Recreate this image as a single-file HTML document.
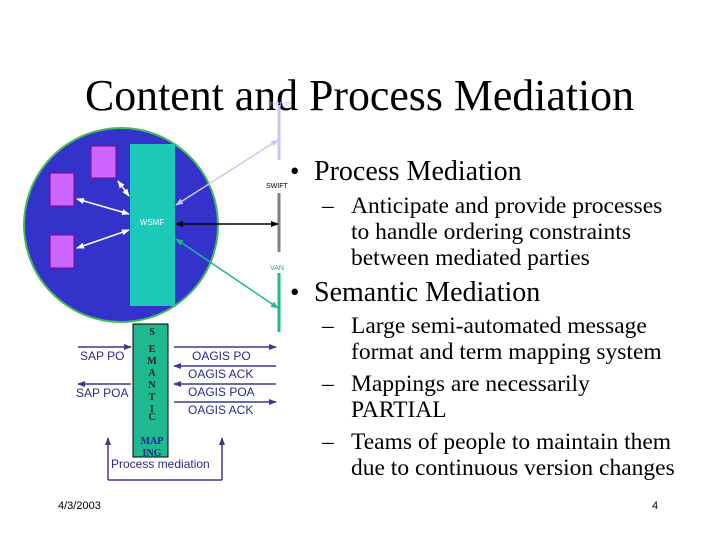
<!DOCTYPE html>
<html><head><meta charset="utf-8"><style>body{margin:0;background:#fff}svg{display:block}</style></head><body>
<svg width="720" height="540" xmlns="http://www.w3.org/2000/svg" font-family="Liberation Sans, sans-serif">
<defs>
<marker id="aw" markerWidth="8" markerHeight="8" refX="7" refY="4" orient="auto-start-reverse" markerUnits="userSpaceOnUse"><path d="M0,1 L8,4 L0,7z" fill="#fff"/></marker>
<marker id="ab" markerWidth="8" markerHeight="8" refX="7" refY="4" orient="auto-start-reverse" markerUnits="userSpaceOnUse"><path d="M0,1 L8,4 L0,7z" fill="#000"/></marker>
<marker id="al" markerWidth="8" markerHeight="8" refX="7" refY="4" orient="auto-start-reverse" markerUnits="userSpaceOnUse"><path d="M0,1 L8,4 L0,7z" fill="#c8c8ee"/></marker>
<marker id="ag" markerWidth="8" markerHeight="8" refX="7" refY="4" orient="auto-start-reverse" markerUnits="userSpaceOnUse"><path d="M0,1 L8,4 L0,7z" fill="#1fb890"/></marker>
<marker id="an" markerWidth="8" markerHeight="8" refX="7" refY="4" orient="auto-start-reverse" markerUnits="userSpaceOnUse"><path d="M0,1 L8,4 L0,7z" fill="#3a3a90"/></marker>
</defs>
<text x="85" y="110" font-family="Liberation Serif, serif" font-size="44" textLength="549" lengthAdjust="spacingAndGlyphs">Content and Process Mediation</text>
<circle cx="121" cy="225" r="97" fill="#3333cc" stroke="#44bb55" stroke-width="2"/>
<rect x="130" y="144" width="45" height="162" fill="#1cc8b8"/>
<text x="152" y="225" font-size="8" fill="#fff" text-anchor="middle">WSMF</text>
<rect x="91" y="146" width="25" height="32" fill="#cc66ff" stroke="#880088"/>
<rect x="50" y="173" width="24" height="33" fill="#cc66ff" stroke="#880088"/>
<rect x="50" y="235" width="24" height="33" fill="#cc66ff" stroke="#880088"/>
<g stroke="#fff" stroke-width="1.5">
<line x1="118" y1="181" x2="129" y2="196" marker-start="url(#aw)" marker-end="url(#aw)"/>
<line x1="77" y1="199" x2="129" y2="214" marker-start="url(#aw)" marker-end="url(#aw)"/>
<line x1="77" y1="248" x2="129" y2="230" marker-start="url(#aw)" marker-end="url(#aw)"/>
</g>
<line x1="279" y1="105" x2="279" y2="160" stroke="#c8c8ee" stroke-width="3"/>
<line x1="279" y1="193" x2="279" y2="252" stroke="#808080" stroke-width="3"/>
<line x1="279" y1="273" x2="279" y2="332" stroke="#1fb890" stroke-width="3"/>
<text x="268" y="106" font-size="7" fill="#c8c8ee">Internet</text>
<text x="266" y="188" font-size="7">SWIFT</text>
<text x="270" y="270" font-size="7" fill="#1fb890">VAN</text>
<line x1="176" y1="205" x2="278" y2="140" stroke="#c8c8ee" stroke-width="1.5" marker-start="url(#al)" marker-end="url(#al)"/>
<line x1="176" y1="224" x2="278" y2="224" stroke="#000" stroke-width="1.5" marker-start="url(#ab)" marker-end="url(#ab)"/>
<line x1="176" y1="239" x2="278" y2="308" stroke="#1fb890" stroke-width="1.5" marker-start="url(#ag)" marker-end="url(#ag)"/>
<rect x="133" y="324" width="35" height="133" fill="#1fb890" stroke="#000"/>
<g font-family="Liberation Serif, serif" font-size="10" font-weight="bold" fill="#222" text-anchor="middle">
<text x="152" y="335">S</text><text x="152" y="352">E</text><text x="152" y="364">M</text><text x="152" y="376">A</text><text x="152" y="388">N</text><text x="152" y="400">T</text><text x="152" y="412">I</text><text x="152" y="420">C</text>
<text x="152" y="444" fill="#222299">MAP</text><text x="152" y="456" fill="#222299">ING</text>
</g>
<g stroke="#3a3a90" stroke-width="1.5" fill="none">
<line x1="78" y1="347" x2="131" y2="347" marker-end="url(#an)"/>
<line x1="131" y1="384" x2="78" y2="384" marker-end="url(#an)"/>
<line x1="174" y1="347" x2="276" y2="347" marker-end="url(#an)"/>
<line x1="276" y1="366" x2="174" y2="366" marker-end="url(#an)"/>
<line x1="276" y1="384" x2="174" y2="384" marker-end="url(#an)"/>
<line x1="174" y1="402" x2="276" y2="402" marker-end="url(#an)"/>
<polyline points="108,480 222,480"/>
<line x1="108" y1="480" x2="108" y2="438" marker-end="url(#an)"/>
<line x1="222" y1="480" x2="222" y2="438" marker-end="url(#an)"/>
</g>
<g font-size="12" fill="#2a2a88">
<text x="80" y="360">SAP PO</text>
<text x="76" y="397">SAP POA</text>
<text x="192" y="360">OAGIS PO</text>
<text x="188" y="378">OAGIS ACK</text>
<text x="188" y="396">OAGIS POA</text>
<text x="188" y="414">OAGIS ACK</text>
<text x="111" y="468">Process mediation</text>
</g>
<g font-family="Liberation Serif, serif" fill="#000">
<text x="290" y="180" font-size="27">•</text><text x="314" y="180" font-size="28">Process Mediation</text>
<g font-size="23.5">
<text x="322" y="213">–</text><text x="351" y="213">Anticipate and provide processes</text>
<text x="351" y="239">to handle ordering constraints</text>
<text x="351" y="265">between mediated parties</text>
</g>
<text x="290" y="301" font-size="27">•</text><text x="314" y="301" font-size="28">Semantic Mediation</text>
<g font-size="23.5">
<text x="322" y="333">–</text><text x="351" y="333">Large semi-automated message</text>
<text x="351" y="359">format and term mapping system</text>
<text x="322" y="391">–</text><text x="351" y="391">Mappings are necessarily</text>
<text x="351" y="417">PARTIAL</text>
<text x="322" y="449">–</text><text x="351" y="449">Teams of people to maintain them</text>
<text x="351" y="475">due to continuous version changes</text>
</g>
</g>
<text x="58" y="509" font-size="11">4/3/2003</text>
<text x="652" y="509" font-size="11">4</text>
</svg>
</body></html>
